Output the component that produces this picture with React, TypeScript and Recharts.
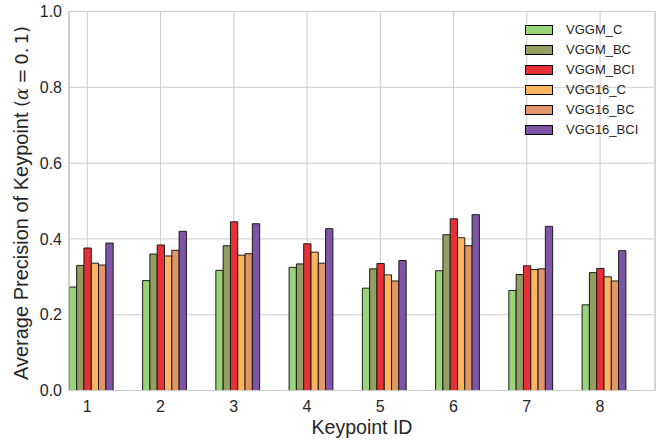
import {
  BarChart, Bar, XAxis, YAxis, CartesianGrid, Legend, ReferenceArea, Label
} from "recharts";

const FONT = "'Liberation Sans', Arial, sans-serif";
const MATH_FONT = "'DejaVu Sans', sans-serif";
const INK = "#262626";

const keypoints = [1, 2, 3, 4, 5, 6, 7, 8];
const vggmC = [0.273, 0.290, 0.317, 0.325, 0.270, 0.316, 0.264, 0.226];
const vggmBC = [0.330, 0.360, 0.382, 0.334, 0.321, 0.411, 0.306, 0.311];
const vggmBCI = [0.376, 0.384, 0.445, 0.387, 0.335, 0.453, 0.329, 0.322];
const vgg16C = [0.336, 0.355, 0.357, 0.365, 0.305, 0.403, 0.319, 0.300];
const vgg16BC = [0.331, 0.370, 0.361, 0.336, 0.289, 0.382, 0.321, 0.289];
const vgg16BCI = [0.389, 0.420, 0.440, 0.427, 0.343, 0.464, 0.433, 0.369];
const yTicks = [0, 0.2, 0.4, 0.6, 0.8, 1.0];

const series = [
  { name: "VGGM_C", values: vggmC, color: "#99d479" },
  { name: "VGGM_BC", values: vggmBC, color: "#949f5f" },
  { name: "VGGM_BCI", values: vggmBCI, color: "#e63035" },
  { name: "VGG16_C", values: vgg16C, color: "#fdb45e" },
  { name: "VGG16_BC", values: vgg16BC, color: "#e3956a" },
  { name: "VGG16_BCI", values: vgg16BCI, color: "#7e55a6" },
];

// matplotlib-style layout: six 0.1-wide bars starting at id - 0.25,
// so the group centre sits at id + 0.05
const data = keypoints.map((id, i) => {
  const row: Record<string, number> = { id, pos: id + 0.05 };
  series.forEach((s) => (row[s.name] = s.values[i]));
  return row;
});

function LegendBox() {
  return (
    <div style={{ fontFamily: FONT, fontSize: 13, color: INK, lineHeight: "20px" }}>
      {series.map((s) => (
        <div key={s.name} style={{ display: "flex", alignItems: "center", height: 20 }}>
          <span
            style={{
              display: "inline-block", width: 28, height: 10, boxSizing: "border-box",
              border: "1px solid #000", background: s.color, marginRight: 13,
            }}
          />
          <span>{s.name}</span>
        </div>
      ))}
    </div>
  );
}

function YTitle(props: any) {
  const vb = props.viewBox ?? { y: 11.5, height: 379 };
  const cy = vb.y + vb.height / 2 + 2;
  const x = 28;
  return (
    <text
      x={x} y={cy} transform={`rotate(-90, ${x}, ${cy})`}
      textAnchor="middle" fontSize={20} fill={INK} fontFamily={FONT}
    >
      Average Precision of Keypoint{" "}
      <tspan fontFamily={MATH_FONT} fontSize={18}>
        (<tspan fontStyle="italic" fontFamily="'DejaVu Serif', serif">α</tspan>
        <tspan dx={4}>=</tspan>
        <tspan dx={4}>0.</tspan>
        <tspan dx={3}>1)</tspan>
      </tspan>
    </text>
  );
}

export default function App() {
  return (
    <div style={{ position: "fixed", left: 0, top: 0, width: 671, height: 442, background: "#fff" }}>
      <BarChart
        width={671} height={442} data={data}
        margin={{ top: 11.5, right: 16, bottom: 0, left: 0 }}
        barGap={0}
      >
        <CartesianGrid stroke="#cccccc" strokeWidth={1} />
        <ReferenceArea x1={0.75} x2={8.75} y1={0} y2={1} fill="none" stroke="#cccccc" strokeWidth={1.2} />
        <XAxis
          dataKey="pos" type="number" domain={[0.75, 8.75]} ticks={keypoints}
          allowDataOverflow height={51.5} tickSize={0} tickMargin={10}
          axisLine={{ stroke: "#cccccc", strokeWidth: 1.2 }}
          tick={{ fontSize: 16, fill: INK, fontFamily: FONT }}
        >
          <Label value="Keypoint ID" position="insideBottom" offset={8}
            style={{ fontSize: 19.5, fill: INK, fontFamily: FONT }} />
        </XAxis>
        <YAxis
          domain={[0, 1]} ticks={yTicks} width={69} tickSize={0} tickMargin={7}
          tickFormatter={(v: number) => v.toFixed(1)}
          axisLine={{ stroke: "#cccccc", strokeWidth: 1.2 }}
          tick={{ fontSize: 16, fill: INK, fontFamily: FONT }}
        >
          <Label content={<YTitle />} />
        </YAxis>
        <Legend
          layout="horizontal" verticalAlign="middle" align="center"
          wrapperStyle={{ top: 19.5, left: 525, width: 140 }}
          content={() => <LegendBox />}
        />
        {series.map((s) => (
          <Bar
            key={s.name} dataKey={s.name} fill={s.color} stroke="#1a1a1a" strokeWidth={1}
            barSize={7.3} isAnimationActive={false}
          />
        ))}
      </BarChart>
    </div>
  );
}
